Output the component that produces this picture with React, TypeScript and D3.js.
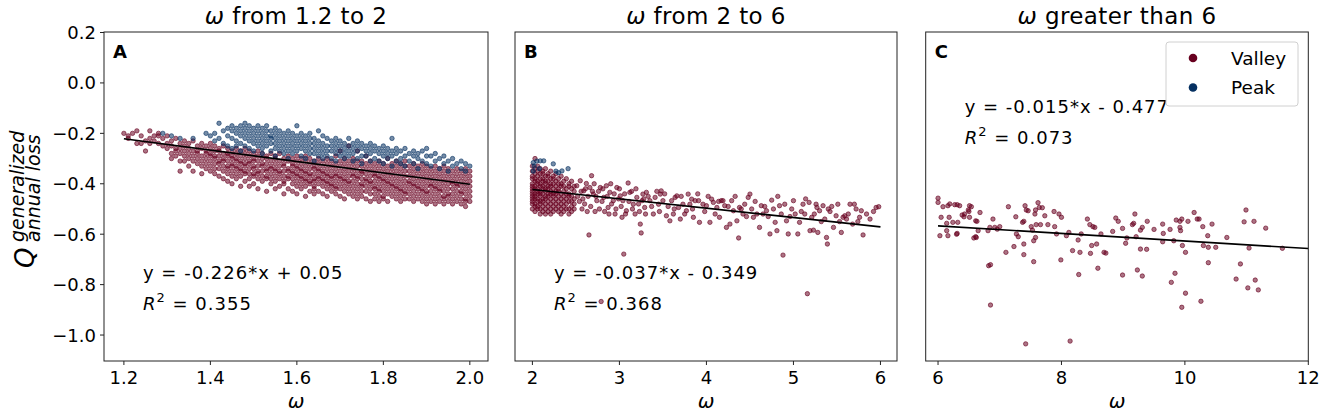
import React from 'react';
import * as d3 from 'd3';

const VALLEY = '#67001f';
const PEAK = '#053061';
const FONT = '"DejaVu Sans", sans-serif';

// panel A, one row per omega column: [omega, Q values...]
const valleyA: number[][] = [
  [1.20, -.20], [1.21, -.21, -.22], [1.22, -.20], [1.23, -.19, -.24], [1.24, -.21, -.24],
  [1.25, -.23, -.27], [1.26, -.19, -.22, -.24], [1.27, -.21, -.23], [1.28, -.20, -.24, -.21],
  [1.29, -.22, -.25], [1.30, -.21, -.24, -.26], [1.31, -.23, -.25, -.28, -.30],
  [1.32, -.22, -.26, -.27, -.29], [1.33, -.24, -.26, -.28, -.31, -.35], [1.34, -.23, -.25, -.27, -.29, -.31],
  [1.35, -.24, -.26, -.28, -.30, -.33], [1.36, -.23, -.27, -.29, -.31, -.35], [1.37, -.25, -.27, -.28, -.30, -.32],
  [1.38, -.24, -.26, -.29, -.31, -.33, -.36], [1.39, -.25, -.27, -.28, -.30, -.32, -.34],
  [1.40, -.24, -.26, -.28, -.29, -.31, -.33, -.35], [1.41, -.25, -.27, -.29, -.30, -.32, -.34, -.36],
  [1.42, -.26, -.27, -.29, -.31, -.32, -.34, -.37], [1.43, -.25, -.28, -.30, -.31, -.33, -.35, -.38],
  [1.44, -.26, -.28, -.29, -.31, -.33, -.34, -.36, -.39], [1.45, -.27, -.29, -.30, -.32, -.33, -.35, -.37, -.40],
  [1.46, -.26, -.28, -.30, -.31, -.33, -.34, -.36, -.38], [1.47, -.27, -.29, -.31, -.32, -.34, -.35, -.37, -.41],
  [1.48, -.26, -.28, -.30, -.32, -.33, -.35, -.36, -.39], [1.49, -.27, -.29, -.31, -.32, -.34, -.36, -.38, -.41],
  [1.50, -.28, -.30, -.31, -.33, -.34, -.36, -.37, -.40], [1.51, -.27, -.29, -.31, -.33, -.35, -.36, -.38, -.42],
  [1.52, -.28, -.30, -.32, -.33, -.35, -.37, -.39], [1.53, -.29, -.30, -.32, -.34, -.35, -.37, -.38, -.43],
  [1.54, -.28, -.31, -.33, -.34, -.36, -.38, -.40], [1.55, -.29, -.30, -.32, -.34, -.35, -.37, -.39, -.42],
  [1.56, -.28, -.31, -.33, -.35, -.36, -.38, -.41], [1.57, -.30, -.32, -.33, -.35, -.37, -.39, -.40, -.44],
  [1.58, -.29, -.31, -.34, -.35, -.37, -.38, -.42], [1.59, -.30, -.32, -.33, -.35, -.36, -.38, -.40, -.43],
  [1.60, -.29, -.31, -.33, -.34, -.36, -.37, -.39, -.41, -.44], [1.61, -.30, -.32, -.34, -.35, -.37, -.38, -.40, -.42],
  [1.62, -.29, -.31, -.33, -.35, -.36, -.38, -.39, -.41, -.45], [1.63, -.30, -.32, -.34, -.36, -.37, -.39, -.40, -.43],
  [1.64, -.31, -.33, -.34, -.36, -.38, -.39, -.41, -.42, -.44], [1.65, -.30, -.32, -.34, -.35, -.37, -.38, -.40, -.43],
  [1.66, -.31, -.33, -.35, -.36, -.38, -.39, -.41, -.44], [1.67, -.30, -.32, -.34, -.36, -.37, -.39, -.40, -.42, -.45],
  [1.68, -.31, -.33, -.35, -.37, -.38, -.40, -.41, -.43], [1.69, -.29, -.32, -.34, -.36, -.37, -.39, -.41, -.42, -.44],
  [1.70, -.27, -.31, -.33, -.35, -.37, -.38, -.40, -.42, -.45], [1.71, -.30, -.32, -.34, -.36, -.38, -.39, -.41, -.43, -.46],
  [1.72, -.25, -.31, -.33, -.35, -.37, -.39, -.40, -.42, -.44], [1.73, -.30, -.32, -.34, -.36, -.37, -.39, -.41, -.43, -.45],
  [1.74, -.27, -.31, -.33, -.35, -.37, -.38, -.40, -.42, -.44, -.46], [1.75, -.31, -.33, -.35, -.36, -.38, -.40, -.41, -.43, -.45],
  [1.76, -.29, -.32, -.34, -.36, -.38, -.39, -.41, -.43, -.46], [1.77, -.31, -.33, -.35, -.37, -.39, -.40, -.42, -.44, -.47],
  [1.78, -.32, -.34, -.36, -.37, -.39, -.41, -.42, -.44, -.46], [1.79, -.31, -.33, -.35, -.37, -.38, -.40, -.42, -.43, -.45, -.47],
  [1.80, -.32, -.34, -.36, -.38, -.39, -.41, -.43, -.45, -.46], [1.81, -.30, -.33, -.35, -.37, -.39, -.40, -.42, -.44, -.47],
  [1.82, -.32, -.34, -.36, -.38, -.40, -.41, -.43, -.45], [1.83, -.31, -.33, -.35, -.37, -.39, -.41, -.42, -.44, -.46],
  [1.84, -.32, -.34, -.36, -.38, -.40, -.42, -.43, -.45, -.47], [1.85, -.31, -.33, -.35, -.37, -.39, -.41, -.43, -.44, -.46],
  [1.86, -.33, -.35, -.37, -.39, -.40, -.42, -.44, -.46], [1.87, -.32, -.34, -.36, -.38, -.40, -.41, -.43, -.45, -.47],
  [1.88, -.33, -.35, -.37, -.39, -.41, -.42, -.44, -.46], [1.89, -.32, -.34, -.36, -.38, -.40, -.42, -.43, -.45, -.47],
  [1.90, -.33, -.35, -.37, -.39, -.41, -.43, -.44, -.46, -.48], [1.91, -.34, -.36, -.38, -.40, -.41, -.43, -.45, -.47],
  [1.92, -.33, -.35, -.37, -.39, -.41, -.42, -.44, -.46, -.48], [1.93, -.34, -.36, -.38, -.40, -.42, -.43, -.45, -.47],
  [1.94, -.33, -.35, -.37, -.39, -.41, -.43, -.45, -.46, -.48], [1.95, -.34, -.36, -.38, -.40, -.42, -.44, -.45, -.47],
  [1.96, -.35, -.37, -.39, -.40, -.42, -.44, -.46, -.48], [1.97, -.34, -.36, -.38, -.40, -.41, -.43, -.45, -.47],
  [1.98, -.35, -.37, -.39, -.41, -.43, -.44, -.46, -.48], [1.99, -.34, -.36, -.38, -.40, -.42, -.44, -.46, -.47, -.49],
  [2.00, -.35, -.37, -.39, -.41, -.43, -.45, -.47],
];

const peakA: number[][] = [
  [1.29, -.20], [1.31, -.21], [1.33, -.22], [1.36, -.22], [1.39, -.20], [1.40, -.21], [1.41, -.20, -.23],
  [1.42, -.16, -.22], [1.43, -.19, -.24], [1.44, -.18, -.21, -.25], [1.45, -.17, -.19, -.22, -.26],
  [1.46, -.18, -.20, -.23, -.25], [1.47, -.17, -.19, -.21, -.24, -.27], [1.48, -.16, -.18, -.20, -.22, -.25],
  [1.49, -.17, -.19, -.21, -.23, -.26], [1.50, -.18, -.20, -.22, -.24, -.27], [1.51, -.17, -.19, -.21, -.23, -.25],
  [1.52, -.18, -.20, -.22, -.24, -.26, -.28], [1.53, -.17, -.19, -.21, -.23, -.25], [1.54, -.19, -.21, -.22, -.24, -.27],
  [1.55, -.18, -.20, -.22, -.24, -.26, -.29], [1.56, -.19, -.21, -.23, -.25, -.27], [1.57, -.20, -.22, -.24, -.26, -.28],
  [1.58, -.19, -.21, -.23, -.25, -.27, -.30], [1.59, -.20, -.22, -.24, -.26, -.28], [1.60, -.17, -.21, -.23, -.25, -.27],
  [1.61, -.20, -.22, -.24, -.26, -.29], [1.62, -.21, -.23, -.25, -.27, -.30], [1.63, -.20, -.22, -.24, -.26, -.28],
  [1.64, -.22, -.24, -.26, -.28, -.31], [1.65, -.19, -.23, -.25, -.27, -.29], [1.66, -.21, -.24, -.26, -.28, -.30],
  [1.67, -.22, -.25, -.27, -.29], [1.68, -.23, -.25, -.27, -.30], [1.69, -.22, -.24, -.26, -.28, -.31],
  [1.70, -.23, -.25, -.27, -.29], [1.71, -.24, -.26, -.28, -.30], [1.72, -.22, -.25, -.27, -.29],
  [1.73, -.24, -.26, -.28, -.31], [1.74, -.23, -.25, -.27, -.30], [1.75, -.24, -.26, -.29, -.32],
  [1.76, -.25, -.27, -.29], [1.77, -.24, -.26, -.28, -.31], [1.78, -.25, -.27, -.30], [1.79, -.26, -.28, -.31],
  [1.80, -.25, -.27, -.29, -.32], [1.81, -.26, -.28, -.30], [1.82, -.22, -.27, -.29, -.33], [1.83, -.26, -.28, -.31],
  [1.84, -.27, -.30, -.32], [1.85, -.26, -.29, -.33], [1.86, -.28, -.31], [1.87, -.27, -.29, -.32],
  [1.88, -.28, -.30, -.34], [1.89, -.27, -.31], [1.90, -.26, -.29, -.32], [1.91, -.29, -.33], [1.92, -.28, -.31],
  [1.93, -.30, -.34], [1.94, -.29, -.32], [1.95, -.31, -.35], [1.96, -.30, -.33], [1.97, -.32], [1.98, -.31, -.34],
  [1.99, -.32, -.35], [2.00, -.33],
];

// panel B, dense block near omega = 2, same column layout
const valleyBBlock: number[][] = [
  [2.00, -.33, -.35, -.37, -.38, -.40, -.41, -.42, -.43, -.44, -.45, -.46, -.47, -.48, -.50],
  [2.03, -.30, -.34, -.36, -.38, -.39, -.41, -.42, -.44, -.45, -.46, -.48, -.49, -.51],
  [2.06, -.33, -.35, -.37, -.39, -.40, -.42, -.43, -.44, -.46, -.47, -.49, -.50],
  [2.09, -.34, -.36, -.38, -.40, -.41, -.43, -.44, -.45, -.47, -.48, -.50, -.52],
  [2.12, -.35, -.36, -.38, -.39, -.41, -.42, -.44, -.46, -.47, -.49, -.51],
  [2.15, -.34, -.37, -.39, -.40, -.42, -.43, -.45, -.46, -.48, -.50, -.52],
  [2.18, -.36, -.37, -.39, -.41, -.42, -.44, -.45, -.47, -.49, -.51],
  [2.21, -.35, -.38, -.40, -.41, -.43, -.44, -.46, -.48, -.50, -.52],
  [2.24, -.37, -.38, -.40, -.42, -.44, -.45, -.47, -.49, -.51],
  [2.27, -.36, -.39, -.41, -.43, -.44, -.46, -.48, -.50],
  [2.30, -.38, -.40, -.42, -.43, -.45, -.47, -.49, -.51],
  [2.33, -.37, -.40, -.41, -.44, -.46, -.48, -.50, -.52],
  [2.36, -.39, -.41, -.43, -.45, -.47, -.49, -.51],
  [2.39, -.38, -.42, -.44, -.46, -.48, -.50],
  [2.42, -.40, -.41, -.44, -.45, -.47, -.50, -.52],
  [2.45, -.39, -.42, -.45, -.47, -.49, -.51],
  [2.48, -.41, -.43, -.46, -.48, -.50],
];

// panel B, the rest: [omega, Q]
const valleyB: number[][] = [
  [2.51, -.408], [2.55, -.388], [2.59, -.428], [2.62, -.399], [2.66, -.415], [2.68, -.368], [2.70, -.441],
  [2.74, -.467], [2.78, -.415], [2.82, -.454], [2.85, -.408], [2.87, -.494], [2.89, -.434], [2.93, -.467],
  [2.95, -.52], [2.97, -.415], [3.01, -.448], [3.03, -.533], [3.04, -.467], [3.08, -.507], [3.10, -.397],
  [3.12, -.434], [3.16, -.481], [3.18, -.52], [3.20, -.454], [3.24, -.56], [3.26, -.467], [3.27, -.441],
  [3.29, -.494], [3.31, -.434], [3.35, -.467], [3.39, -.52], [3.41, -.454], [3.45, -.481], [3.47, -.441],
  [3.48, -.428], [3.50, -.467], [3.54, -.527], [3.58, -.547], [3.60, -.467], [3.62, -.52], [3.64, -.454],
  [3.66, -.448], [3.68, -.494], [3.70, -.54], [3.73, -.481], [3.77, -.507], [3.79, -.441], [3.81, -.481],
  [3.83, -.461], [3.85, -.533], [3.87, -.467], [3.91, -.467], [3.92, -.553], [3.96, -.481], [4.00, -.487],
  [4.04, -.553], [4.06, -.461], [4.08, -.474], [4.12, -.494], [4.15, -.533], [4.17, -.467], [4.19, -.467],
  [4.21, -.487], [4.23, -.573], [4.27, -.56], [4.29, -.467], [4.31, -.507], [4.35, -.547], [4.37, -.615],
  [4.38, -.494], [4.42, -.52], [4.44, -.481], [4.48, -.454], [4.50, -.441], [4.52, -.5], [4.54, -.533],
  [4.58, -.52], [4.61, -.573], [4.63, -.487], [4.65, -.52], [4.69, -.507], [4.73, -.599], [4.75, -.465],
  [4.77, -.5], [4.79, -.553], [4.81, -.586], [4.84, -.487], [4.86, -.52], [4.88, -.683], [4.90, -.481],
  [4.92, -.547], [4.94, -.599], [4.98, -.5], [5.00, -.467], [5.02, -.52], [5.05, -.599], [5.07, -.553],
  [5.11, -.481], [5.13, -.52], [5.16, -.836], [5.18, -.474], [5.19, -.586], [5.21, -.533], [5.23, -.584],
  [5.26, -.481], [5.27, -.494], [5.28, -.593], [5.30, -.507], [5.34, -.487], [5.36, -.54], [5.38, -.613],
  [5.39, -.639], [5.40, -.5], [5.42, -.51], [5.46, -.573], [5.49, -.527], [5.51, -.481], [5.55, -.593],
  [5.57, -.533], [5.59, -.527], [5.61, -.54], [5.65, -.481], [5.70, -.481], [5.72, -.5], [5.76, -.533],
  [5.78, -.507], [5.80, -.603], [5.88, -.54], [5.95, -.494], [5.98, -.491],
  [2.65, -.603], [3.05, -.679], [3.25, -.595], [2.79, -.867],
  [2.52, -.45], [2.54, -.47], [2.56, -.43], [2.57, -.50], [2.58, -.46], [2.60, -.48], [2.61, -.42], [2.63, -.51],
  [2.64, -.45], [2.67, -.49], [2.69, -.43], [2.71, -.40], [2.72, -.51], [2.73, -.45], [2.76, -.43], [2.77, -.50],
  [2.80, -.47], [2.81, -.42], [2.83, -.51], [2.86, -.45], [2.88, -.52], [2.90, -.40], [2.91, -.48], [2.94, -.44],
  [2.96, -.50], [2.99, -.46], [3.00, -.42], [3.02, -.49], [3.06, -.44], [3.07, -.52], [3.11, -.47], [3.14, -.43],
  [3.15, -.50], [3.19, -.42], [3.22, -.48], [3.23, -.51], [3.28, -.46], [3.30, -.52], [3.33, -.45], [3.37, -.49],
  [3.43, -.43], [3.46, -.51], [3.52, -.44], [3.56, -.49], [3.63, -.50], [3.71, -.45], [3.75, -.52], [3.84, -.50],
  [3.90, -.44], [3.98, -.51], [4.02, -.45], [4.10, -.52], [4.14, -.47], [4.25, -.49], [4.33, -.45], [4.40, -.50],
  [4.46, -.53], [4.56, -.47], [4.67, -.49], [4.71, -.53], [4.82, -.45], [4.96, -.53], [5.09, -.51], [5.14, -.46],
  [5.24, -.52], [5.32, -.55], [5.44, -.49], [5.53, -.55], [5.63, -.52], [5.68, -.56], [5.74, -.55], [5.84, -.52],
  [5.92, -.51],
];

const peakB: number[][] = [
  [2.01, -.316], [2.02, -.33], [2.01, -.35], [2.05, -.31], [2.09, -.309], [2.13, -.309], [2.24, -.321],
  [2.27, -.35], [2.30, -.356], [2.34, -.349], [2.41, -.34], [2.08, -.34],
];

// panel C: [omega, Q]
const valleyC: number[][] = [
  [6.00, -.457], [6.00, -.474], [6.05, -.533], [6.14, -.557], [6.14, -.586], [6.16, -.606], [6.03, -.606],
  [6.16, -.487], [6.19, -.48], [6.27, -.483], [6.31, -.483], [6.18, -.533], [6.32, -.553], [6.31, -.597],
  [6.39, -.524], [6.42, -.531], [6.49, -.504], [6.50, -.51], [6.51, -.487], [6.54, -.491], [6.51, -.533],
  [6.61, -.547], [6.63, -.549], [6.68, -.514], [6.58, -.615], [6.61, -.61], [6.65, -.586], [6.81, -.586],
  [6.84, -.573], [6.89, -.54], [6.92, -.573], [6.96, -.58], [7.00, -.57], [6.82, -.725], [6.85, -.721],
  [6.85, -.881], [7.14, -.491], [7.10, -.672], [7.23, -.649], [7.26, -.531], [7.27, -.599], [7.30, -.61],
  [7.37, -.553], [7.39, -.549], [7.39, -.639], [7.39, -.681], [7.41, -.487], [7.42, -1.035], [7.43, -.504],
  [7.46, -.507], [7.51, -.57], [7.53, -.584], [7.55, -.626], [7.55, -.709], [7.57, -.52], [7.58, -.504],
  [7.62, -.475], [7.64, -.494], [7.59, -.562], [7.66, -.562], [7.58, -.613], [7.69, -.495], [7.73, -.527],
  [7.78, -.562], [7.88, -.51], [7.89, -.57], [7.92, -.599], [7.96, -.52], [8.00, -.533], [7.99, -.702],
  [8.08, -.606], [8.12, -.593], [8.14, -1.024], [8.18, -.665], [8.27, -.623], [8.28, -.76], [8.32, -.599],
  [8.30, -.672], [8.42, -.54], [8.46, -.562], [8.51, -.57], [8.54, -.573], [8.47, -.676], [8.49, -.645],
  [8.57, -.639], [8.59, -.735], [8.64, -.599], [8.69, -.672], [8.72, -.675], [8.83, -.589], [8.88, -.536],
  [8.92, -.549], [8.99, -.762], [8.99, -.577], [9.04, -.636], [9.06, -.615], [9.15, -.562], [9.17, -.557],
  [9.19, -.52], [9.21, -.61], [9.23, -.742], [9.28, -.584], [9.28, -.659], [9.31, -.766], [9.31, -.573],
  [9.38, -.66], [9.39, -.549], [9.50, -.581], [9.64, -.56], [9.65, -.597], [9.64, -.63], [9.76, -.581],
  [9.78, -.791], [9.84, -.755], [9.82, -.626], [9.86, -.544], [9.92, -.549], [9.95, -.54], [9.92, -.573],
  [9.93, -.586], [9.96, -.645], [9.95, -.89], [10.01, -.672], [10.01, -.834], [10.05, -.549], [10.15, -.514],
  [10.20, -.54], [10.23, -.54], [10.26, -.866], [10.29, -.57], [10.30, -.645], [10.37, -.606], [10.38, -.652],
  [10.38, -.713], [10.44, -.56], [10.50, -.652], [10.68, -.613], [10.83, -.778], [10.90, -.718], [10.96, -.551],
  [10.99, -.504], [11.02, -.813], [11.04, -.655], [11.12, -.549], [11.14, -.782], [11.19, -.821], [11.31, -.576],
  [11.58, -.656], [6.08, -.491], [6.24, -.553], [6.30, -.60], [6.35, -.487], [6.43, -.52], [6.62, -.613],
];

const xTicksA = [1.2, 1.4, 1.6, 1.8, 2.0];
const xTicksB = [2, 3, 4, 5, 6];
const xTicksC = [6, 8, 10, 12];
const yTicks = [0.2, 0.0, -0.2, -0.4, -0.6, -0.8, -1.0];

const fitA = { slope: -0.226, intercept: 0.05, from: 1.2, to: 2.0, r2: '0.355', text: 'y = -0.226*x + 0.05' };
const fitB = { slope: -0.037, intercept: -0.349, from: 2.0, to: 6.0, r2: '0.368', text: 'y = -0.037*x - 0.349' };
const fitC = { slope: -0.015, intercept: -0.477, from: 6.0, to: 12.0, r2: '0.073', text: 'y = -0.015*x - 0.477' };

const columns = (rows: number[][]) => rows.flatMap(([x, ...ys]) => ys.map((y) => [x, y]));

const TOP = 32;
const BOTTOM = 361;

const panels = [
  { letter: 'A', title: 'from 1.2 to 2', left: 104, right: 488, domain: [1.154, 2.042], ticks: xTicksA,
    fmt: d3.format('.1f'), valley: columns(valleyA), peak: columns(peakA), fit: fitA, eqY: 279 },
  { letter: 'B', title: 'from 2 to 6', left: 515, right: 897, domain: [1.8, 6.19], ticks: xTicksB,
    fmt: d3.format('d'), valley: [...columns(valleyBBlock), ...valleyB], peak: peakB, fit: fitB, eqY: 279 },
  { letter: 'C', title: 'greater than 6', left: 925.7, right: 1308.3, domain: [5.8, 12], ticks: xTicksC,
    fmt: d3.format('d'), valley: valleyC, peak: [] as number[][], fit: fitC, eqY: 113 },
];

const y = d3.scaleLinear().domain([-1.103, 0.202]).range([BOTTOM, TOP]);

const Dots = ({ pts, color, x }: { pts: number[][]; color: string; x: d3.ScaleLinear<number, number> }) => (
  <g>
    {pts.map(([a, b], i) => (
      <circle key={i} cx={x(a)} cy={y(b)} r={2.2} fill={color} fillOpacity={0.55}
        stroke={color} strokeOpacity={0.6} strokeWidth={1} />
    ))}
  </g>
);

export default function App() {
  const yFmt = d3.format('.1f');
  return (
    <svg width={1325} height={416} style={{ position: 'absolute', left: 0, top: 0, background: '#fff' }}
      fontFamily={FONT}>
      {panels.map((p) => {
        const x = d3.scaleLinear().domain(p.domain).range([p.left, p.right]);
        const f = p.fit;
        const cx = (p.left + p.right) / 2;
        return (
          <g key={p.letter}>
            <text x={cx} y={24} fontSize={23} textAnchor="middle" letterSpacing={0.4}>
              <tspan fontStyle="italic">ω</tspan> {p.title}
            </text>
            <Dots pts={p.valley} color={VALLEY} x={x} />
            <Dots pts={p.peak} color={PEAK} x={x} />
            <line x1={x(f.from)} y1={y(f.slope * f.from + f.intercept)} x2={x(f.to)}
              y2={y(f.slope * f.to + f.intercept)} stroke="#000" strokeWidth={1.6} />
            <text x={p.left + 39} y={p.eqY} fontSize={18} letterSpacing={1}>{f.text}</text>
            <text x={p.left + 39} y={p.eqY + 31} fontSize={18} letterSpacing={1}>
              <tspan fontStyle="italic">R</tspan>
              <tspan fontSize={13} dy={-8}>2</tspan>
              <tspan dy={8}> = {f.r2}</tspan>
            </text>
            <text x={p.left + 9} y={58} fontSize={18} fontWeight="bold">{p.letter}</text>
            {p.ticks.map((t) => (
              <g key={t} transform={`translate(${x(t)},${BOTTOM})`}>
                <line y2={4} stroke="#222" strokeWidth={1} />
                <text y={23} fontSize={18} textAnchor="middle">{p.fmt(t)}</text>
              </g>
            ))}
            <text x={cx} y={408} fontSize={20} fontStyle="italic" textAnchor="middle">ω</text>
            <rect x={p.left} y={TOP} width={p.right - p.left} height={BOTTOM - TOP}
              fill="none" stroke="#222" strokeWidth={1} />
          </g>
        );
      })}

      {yTicks.map((t) => (
        <g key={t} transform={`translate(104,${y(t)})`}>
          <line x2={-4} stroke="#222" strokeWidth={1} />
          <text x={-8} y={6.5} fontSize={18} textAnchor="end">{yFmt(t)}</text>
        </g>
      ))}

      <g transform="translate(34,268) rotate(-90)" fontStyle="italic">
        <text x={0} y={0} fontSize={26}>Q</text>
        <text x={26} y={-10} fontSize={19}>generalized</text>
        <text x={26} y={6} fontSize={19}>annual loss</text>
      </g>

      <g>
        <rect x={1166} y={42} width={132} height={64} rx={3} fill="#fff" fillOpacity={0.8}
          stroke="#d0d0d0" strokeWidth={1} />
        <circle cx={1193} cy={58} r={4.3} fill={VALLEY} />
        <text x={1231} y={65} fontSize={18.5}>Valley</text>
        <circle cx={1193} cy={87.5} r={4.3} fill={PEAK} />
        <text x={1231} y={94} fontSize={18.5}>Peak</text>
      </g>
    </svg>
  );
}
